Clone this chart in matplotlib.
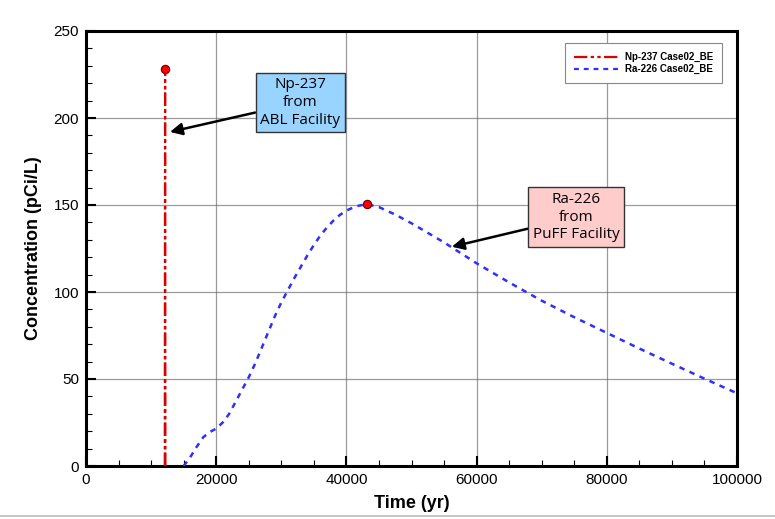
import matplotlib
matplotlib.use("Agg")
import matplotlib.pyplot as plt
from matplotlib.ticker import MultipleLocator
from matplotlib.lines import Line2D

plt.rcParams['font.family'] = ['Liberation Sans', 'DejaVu Sans']

# Data
np_time = [12100, 12150, 12200, 12300]
np_conc = [0, 228, 0, 0]
np_peak = (12150, 228)

ra_time = [15000, 16000, 17000, 18000, 19000, 20000, 21000, 22000, 23000, 24000,
           25000, 26000, 27000, 28000, 29000, 30000, 31000, 32000, 33000, 34000,
           35000, 36000, 37000, 38000, 39000, 40000, 41000, 42000, 43200, 45000,
           47500, 50000, 52500, 55000, 57500, 60000, 65000, 70000, 75000, 80000,
           85000, 90000, 95000, 100000]
ra_conc = [0, 5, 11, 16.5, 19.5, 21.5, 25, 30, 37, 44,
           51, 59, 68, 77, 86, 94, 101, 108, 114.5, 121,
           127, 132.5, 137, 141, 144.3, 146.8, 148.5, 149.7, 150.5, 148.8,
           144.5, 139.5, 134, 128.5, 122.5, 116.5, 105.5, 95, 85.5, 76.5,
           67.5, 58.8, 50.2, 41.8]
ra_peak = (43200, 150.5)

labels = ['Np-237 Case02_BE', 'Ra-226 Case02_BE']

fig = plt.figure(figsize=(7.75, 5.19), dpi=100)
ax = fig.add_axes([86/775, 1-466/519, (737-86)/775, (466-31)/519])

ax.plot(np_time, np_conc, color='#dd0000', lw=1.6, dashes=[6, 1.5, 1.5, 1.5, 1.5, 1.5], zorder=3)
ax.plot(ra_time, ra_conc, color='#2f2fff', lw=1.8, dashes=[2.2, 2.2], zorder=3)
ax.plot(*np_peak, 'o', ms=6, mfc='red', mec='#660000', mew=0.8, zorder=4)
ax.plot(*ra_peak, 'o', ms=6, mfc='red', mec='#660000', mew=0.8, zorder=4)

ax.set_xlim(0, 100000)
ax.set_ylim(0, 250)
ax.xaxis.set_major_locator(MultipleLocator(20000))
ax.xaxis.set_minor_locator(MultipleLocator(5000))
ax.yaxis.set_major_locator(MultipleLocator(50))
ax.yaxis.set_minor_locator(MultipleLocator(10))
ax.grid(True, which='major', color='#666666', lw=0.9, alpha=0.65)
ax.tick_params(which='major', direction='in', length=7, width=1.5, labelsize=11, pad=5)
ax.tick_params(which='minor', direction='in', length=4, width=0.8)
for s in ax.spines.values():
    s.set_linewidth(2.2)

ax.set_xlabel('Time (yr)', fontsize=13, fontweight='bold', labelpad=6)
ax.set_ylabel('Concentration (pCi/L)', fontsize=13, fontweight='bold', labelpad=8)

handles = [Line2D([], [], color='#dd0000', lw=1.6, dashes=[6, 1.5, 1.5, 1.5, 1.5, 1.5]),
           Line2D([], [], color='#2f2fff', lw=1.6, dashes=[2.2, 2.2])]
leg = ax.legend(handles, labels, loc='upper right', bbox_to_anchor=(0.985, 0.983),
                prop={'weight': 'bold', 'size': 7}, fancybox=False, framealpha=1,
                edgecolor='#888888', handlelength=4.5, borderpad=0.9, labelspacing=0.2)
leg.get_frame().set_linewidth(0.8)

ax.annotate('Np-237\nfrom\nABL Facility', xy=(12900, 192), xytext=(32900, 209),
            ha='center', va='center', fontsize=11, family=['Open Sans', 'DejaVu Sans'],
            linespacing=1.25,
            bbox=dict(boxstyle='square,pad=0.3', fc='#99d3ff', ec='#333333', lw=1),
            arrowprops=dict(arrowstyle='-|>', color='black', lw=1.8, mutation_scale=18,
                            shrinkA=0, shrinkB=0), zorder=5)
ax.annotate('Ra-226\nfrom\nPuFF Facility', xy=(56200, 126), xytext=(75300, 143),
            ha='center', va='center', fontsize=11, family=['Open Sans', 'DejaVu Sans'],
            linespacing=1.25,
            bbox=dict(boxstyle='square,pad=0.3', fc='#ffcccc', ec='#333333', lw=1),
            arrowprops=dict(arrowstyle='-|>', color='black', lw=1.8, mutation_scale=18,
                            shrinkA=0, shrinkB=0), zorder=5)

fig.add_artist(Line2D([0, 1], [1-516/519, 1-516/519], color='#bbbbbb', lw=1.2))

fig.savefig('out.png', dpi=100)
